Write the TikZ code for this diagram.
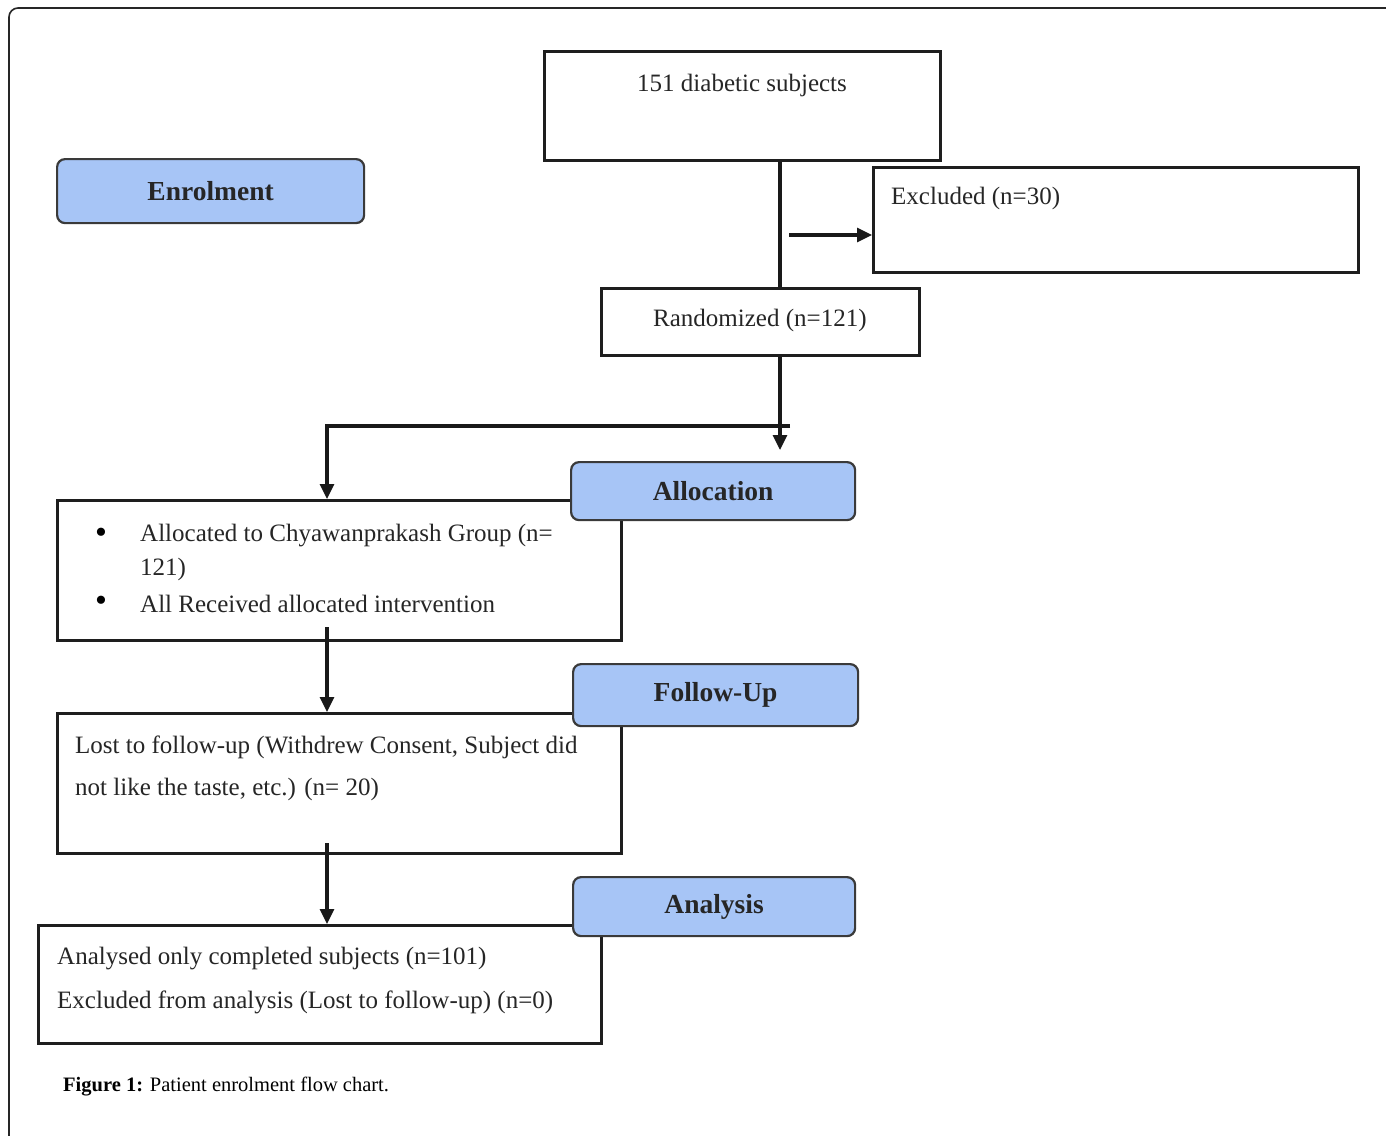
\documentclass[tikz,border=0pt]{standalone}
\usepackage{fontspec}
\setmainfont{Liberation Serif}
\usetikzlibrary{arrows.meta}
\definecolor{hdrblue}{HTML}{A7C5F6}
\definecolor{hdredge}{HTML}{3A3A3A}
\definecolor{boxedge}{HTML}{1E1E1E}
\begin{document}
\begin{tikzpicture}[x=1pt,y=-1pt,
  wbox/.style={draw=boxedge,line width=2.8pt,fill=white,anchor=north west,inner sep=0pt},
  hbox/.style={draw=hdredge,line width=2.2pt,fill=hdrblue,rounded corners=8pt,anchor=north west,inner sep=0pt,
    font=\fontsize{27.5}{31}\selectfont\bfseries,text=black!85},
  txt/.style={anchor=west,inner sep=0pt,font=\fontsize{25}{29}\selectfont,text=black!85},
  bul/.style={anchor=center,inner sep=0pt,font=\fontsize{34}{36}\selectfont,text=black},
  conn/.style={line width=3.2pt,draw=black!90},
  arr/.style={conn,-{Triangle[length=15pt,width=14pt]}}]
\useasboundingbox (0,0) rectangle (1386,1135);
% outer frame
\draw[line width=1.6pt,black!85,rounded corners=9pt] (9,1140) -- (9,8) -- (1390,8);

% white boxes
\node[wbox,minimum width=396pt,minimum height=109pt] (top) at (543,50) {};
\node[txt] (toptxt) at (637,85) {151 diabetic subjects};
\node[wbox,minimum width=485pt,minimum height=105pt] (exc) at (872,166) {};
\node[txt] (exctxt) at (891,198) {Excluded (n=30)};
\node[wbox,minimum width=318pt,minimum height=67pt] (rnd) at (600,287) {};
\node[txt] (rndtxt) at (653,320) {Randomized (n=121)};
\node[wbox,minimum width=564pt,minimum height=140pt] (b1) at (56,499) {};
\node[wbox,minimum width=564pt,minimum height=140pt] (b2) at (56,712) {};
\node[wbox,minimum width=563pt,minimum height=118pt] (b3) at (37,924) {};

% header boxes
\node[hbox,minimum width=307pt,minimum height=64pt] (enr) at (56,158) {Enrolment};
\node[hbox,minimum width=284pt,minimum height=58pt] (alc) at (570,461) {Allocation};
\node[hbox,minimum width=285pt,minimum height=62pt] (fu) at (572,663) {Follow-Up};
\node[hbox,minimum width=282pt,minimum height=59pt] (an) at (572,876) {Analysis};

% box texts
\node[bul] (bul1) at (101,536) {\textbullet};
\node[txt] (b1l1) at (140,536) {Allocated to Chyawanprakash Group (n=};
\node[txt] (b1l2) at (140,569) {121)};
\node[bul] (bul2) at (101,604) {\textbullet};
\node[txt] (b1l3) at (140,604) {All Received allocated intervention};
\node[txt] (b2l1) at (75,747) {Lost to follow-up (Withdrew Consent, Subject did};
\node[txt] (b2l2) at (75,789) {not like the taste, etc.) (n= 20)};
\node[txt] (b3l1) at (57,959) {Analysed only completed subjects (n=101)};
\node[txt] (b3l2) at (57,1002) {Excluded from analysis (Lost to follow-up) (n=0)};

% caption
\node[anchor=west,inner sep=0pt,font=\fontsize{20.5}{24}\selectfont] (cap) at (63,1087) {\textbf{Figure 1:} Patient enrolment flow chart.};

% connectors
\coordinate (c1) at (780,0);
\coordinate (ea) at (789,235);
\coordinate (at1) at (780,450);
\coordinate (hr) at (790,426);
\coordinate (hl) at (327,426);
\coordinate (s1) at (327,627);
\coordinate (s2) at (327,843);
\draw[conn] (top.south -| c1) -- (rnd.north -| c1);
\draw[arr] (ea) -- (ea -| exc.west);
\draw[arr] (rnd.south -| c1) -- (at1);
\draw[arr] (hr) -- (hl) -- (b1.north -| hl);
\draw[arr] (s1) -- (b2.north -| s1);
\draw[arr] (s2) -- (b3.north -| s2);
\end{tikzpicture}
\end{document}
